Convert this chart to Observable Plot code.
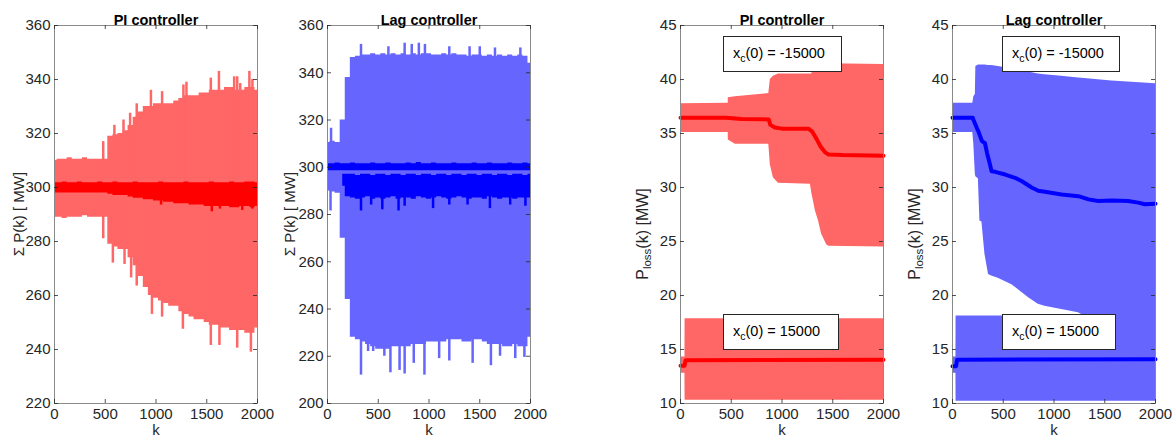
<!DOCTYPE html>
<html><head><meta charset="utf-8">
<script src="https://cdn.jsdelivr.net/npm/d3@7"></script>
<script src="https://cdn.jsdelivr.net/npm/@observablehq/plot@0.6"></script>
<style>
html,body{margin:0;padding:0;background:#fff;}
#chart{position:relative;width:1172px;height:445px;overflow:hidden;font-family:"Liberation Sans",Arial,Helvetica,sans-serif;}
.box{position:absolute;background:#fff;border:1px solid #262626;box-sizing:border-box;font-size:14.5px;color:#000;display:flex;align-items:center;padding-left:9px;padding-bottom:2px;white-space:nowrap;font-family:"Liberation Sans",Arial,sans-serif;}
.box .sb{font-size:10.5px;position:relative;top:5px}
</style></head><body><div id="chart"></div>
<script>
// ---------- shared ticks ----------
const xTicks = [0, 500, 1000, 1500, 2000];
const yTicksSumPI = [220, 240, 260, 280, 300, 320, 340, 360];
const yTicksSumLag = [200, 220, 240, 260, 280, 300, 320, 340, 360];
const yTicksLoss = [10, 15, 20, 25, 30, 35, 40, 45];
const titles = ["PI controller", "Lag controller", "PI controller", "Lag controller"];
const boxLabels = ["-15000", "15000"];

// ---------- Sum P(k): sampled every 50 steps ----------
const kGrid = d3.range(0, 2001, 50);
const sumCenter = 300;
const piSumUpper = [310, 310.5, 310.5, 311, 310.5, 310.5, 311, 310.5, 310.5, 310.5, 310.5,
  319, 319.5, 320, 321, 323, 326, 328, 330, 330,
  331, 331, 331, 331, 332, 333, 334, 334, 334, 335,
  335, 336, 336, 336, 337, 337, 336, 336, 337, 337, 336];
const piSumLower = [289, 289, 288.5, 289, 289, 289, 289.5, 289, 289, 289, 289,
  279, 278, 277, 277, 274, 271, 267, 263, 260,
  259, 258, 257, 256, 256, 254, 253, 252, 251, 251,
  250, 249, 249, 248, 248, 247, 247, 247, 246, 246, 248];
const piSumSpikesUp = [[480, 317], [590, 323], [680, 325], [745, 327.5], [810, 331], [950, 336], [1060, 335.5],
  [1270, 338], [1300, 339], [1540, 340.5], [1620, 343], [1770, 341], [1800, 341], [1830, 338.5], [1920, 343], [1950, 340]];
const piSumSpikesDown = [[480, 281], [575, 272], [690, 271.5], [755, 266.5], [810, 263.5], [960, 253], [1060, 252],
  [1265, 247.5], [1540, 241.5], [1625, 241.5], [1800, 240.5], [1935, 239]];
const piSumDarkUpper = [301.8, 301.8, 302, 301.8, 301.8, 302, 301.8, 301.8, 301.8, 302, 301.8,
  301.8, 302, 301.8, 301.8, 301.8, 302, 301.8, 301.8, 301.8,
  301.8, 302, 301.8, 301.8, 301.8, 301.8, 302, 301.8, 301.8, 301.8,
  301.8, 302, 301.8, 301.8, 301.8, 302, 301.8, 301.8, 302, 302, 301.8];
const piSumDarkLower = [298, 298, 298, 298, 298, 298, 298, 298, 298, 298, 298,
  297.5, 297, 297, 297, 296.5, 296, 296, 295.5, 295.5,
  295, 295, 294.5, 294.5, 294, 294, 294, 293.5, 293.5, 293.5,
  293, 293, 293, 293, 293, 292.5, 292.5, 293, 293, 292.5, 293];
const piSumDarkSpikes = [[1050, 293.5], [1550, 291], [1630, 292], [1850, 291.5], [1950, 292]];

const lagSumUpper = [310.5, 311, 310.5, 320, 338, 346.5, 347, 347.5, 347.5, 348, 347.5,
  348, 347.5, 348, 347.5, 348, 347.5, 348, 347.5, 348,
  348, 347.5, 347.5, 348, 347.5, 348, 347.5, 347.5, 347, 347.5,
  347.5, 347, 347.5, 347, 347.5, 347, 347.5, 347, 347.5, 347, 344];
const lagSumLower = [290, 289.5, 289, 270, 244, 228, 227, 226, 225, 224, 223,
  223, 223, 224, 224, 224, 224, 225, 225, 225,
  226, 226, 226, 226, 227, 227, 227, 226, 226, 227,
  227, 226, 225, 225, 225, 224, 224, 225, 224, 224, 228];
const lagSumSpikesUp = [[35, 316.5], [330, 352], [600, 351], [760, 352.5], [830, 352], [900, 352.5], [960, 352],
  [1200, 351], [1400, 351], [1500, 351], [1650, 350.5], [1900, 350.5]];
const lagSumSpikesDown = [[30, 281.5], [330, 212], [400, 222], [450, 222], [560, 220], [620, 213], [710, 214],
  [760, 212.5], [850, 217], [955, 212], [1100, 219], [1200, 218], [1430, 217], [1610, 216], [1700, 220], [1850, 219], [1940, 219.5]];
const lagSumDarkUpper = [301.5, 301.5, 301.8, 301.5, 301.5, 301.8, 301.5, 301.5, 301.5, 301.8, 301.5,
  301.5, 301.8, 301.5, 301.5, 301.5, 301.8, 301.5, 302, 301.5,
  301.5, 301.8, 301.5, 301.5, 301.5, 301.8, 301.5, 301.5, 301.5, 301.8,
  301.5, 301.5, 301.8, 301.5, 301.5, 301.5, 301.8, 301.5, 301.5, 301.8, 301.5];
const lagSumDarkLower = [298.5, 298.5, 298.5, 298.5, 298.5, 298.5, 298.5, 298.5, 298.5, 298.5, 298.5,
  298.5, 298.5, 298.5, 298.5, 298.5, 298.5, 298.5, 298.5, 298.5,
  298.5, 298.5, 298.5, 298.5, 298.5, 298.5, 298.5, 298.5, 298.5, 298.5,
  298.5, 298.5, 298.5, 298.5, 298.5, 298.5, 298.5, 298.5, 298.5, 298.5, 298.5];
const lagSumBandUpper = [null, null, null, 297, 297, 297, 296.5, 297, 297, 296.5, 297,
  297, 296.5, 297, 297, 296.5, 297, 297, 296.5, 297,
  297, 296.5, 297, 297, 296.5, 297, 297, 296.5, 297, 297,
  296.5, 297, 297, 296.5, 297, 297, 296.5, 297, 297, 296.5, 297];
const lagSumBandLower = [null, null, null, 292, 287.5, 287, 286.5, 287, 287.5, 286.5, 287,
  286.5, 287, 287.5, 286.5, 287, 287, 286.5, 287.5, 287,
  286.5, 287, 287.5, 287, 286.5, 287, 287.5, 287, 286.5, 287,
  287, 286.5, 287.5, 287, 286.5, 287, 287, 286.5, 287, 287, 287];
const lagSumDarkSpikes = [[330, 281.5], [430, 284], [540, 282], [700, 281.5], [760, 283.5], [1040, 282.5],
  [1200, 284], [1380, 284], [1600, 282.5], [1800, 284], [1950, 283.5]];

// ---------- P_loss(k): breakpoints ----------
const piLossHiK = [0, 470, 471, 540, 870, 885, 915, 965, 1280, 1295, 1300, 1330, 1360, 1390, 1440, 1460, 2000];
const piLossHiUpper = [37.75, 37.8, 38.3, 38.4, 38.7, 40.0, 40.3, 40.5, 40.5, 40.5, 41.45, 41.45, 41.45, 41.45, 41.45, 41.45, 41.4];
const piLossHiLower = [35.1, 35.1, 34.4, 34.0, 34.0, 32.1, 30.9, 30.4, 30.3, 29.4, 29.2, 27.8, 26.9, 25.7, 24.7, 24.55, 24.5];
const piLossHiLineK = [0, 200, 450, 600, 870, 885, 930, 1000, 1260, 1295, 1340, 1380, 1425, 1460, 1600, 2000];
const piLossHiLineV = [36.45, 36.45, 36.45, 36.35, 36.3, 35.8, 35.55, 35.45, 35.45, 35.2, 34.5, 33.8, 33.25, 33.05, 33.0, 32.95];
const piLossLoK = [0, 44, 45, 2000];
const piLossLoUpper = [14.3, 14.3, 17.85, 17.85];
const piLossLoLower = [12.8, 12.8, 10.3, 10.3];
const piLossLoLineK = [0, 40, 50, 2000];
const piLossLoLineV = [13.5, 13.5, 14.0, 14.05];

const lagLossHiK = [0, 200, 210, 225, 230, 255, 270, 290, 320, 355, 385, 450, 585, 750, 845, 910, 1075, 1240, 1300, 1570, 2000];
const lagLossHiUpper = [37.8, 37.8, 38.4, 38.6, 41.2, 41.35, 41.35, 41.35, 41.35, 41.3, 41.3, 41.2, 41.0, 40.7, 40.5, 40.45, 40.3, 40.15, 40.1, 39.85, 39.6];
const lagLossHiLower = [35.1, 35.1, 34.0, 31.2, 31.0, 30.8, 26.9, 26.8, 23.8, 21.95, 21.8, 21.6, 21.0, 19.8, 19.2, 19.0, 18.7, 18.4, 18.1, 17.8, 17.5];
const lagLossHiLineK = [0, 200, 205, 240, 255, 290, 320, 340, 370, 385, 420, 520, 615, 680, 780, 845, 910, 1075, 1240, 1340, 1435, 1570, 1730, 1830, 1895, 2000];
const lagLossHiLineV = [36.45, 36.45, 36.3, 35.5, 35.2, 34.3, 34.1, 33.2, 32.1, 31.5, 31.45, 31.2, 30.9, 30.6, 30.0, 29.7, 29.6, 29.35, 29.2, 28.9, 28.75, 28.8, 28.75, 28.6, 28.45, 28.5];
const lagLossLoK = [0, 34, 35, 2000];
const lagLossLoUpper = [14.3, 14.3, 18.1, 18.1];
const lagLossLoLower = [12.8, 12.8, 10.2, 10.2];
const lagLossLoLineK = [0, 35, 45, 2000];
const lagLossLoLineV = [13.45, 13.45, 14.05, 14.1];

// ---------- colours ----------
const RED_L = "#ff6666", RED_D = "#ff0000", BLUE_L = "#6666ff", BLUE_D = "#0000ff";
const AXIS = "#262626";
const FONT = '"Liberation Sans", Arial, Helvetica, sans-serif';

// ---------- helpers ----------
const band = (ks, lo, hi) => ks.map((k, i) => ({k, lo: lo[i], hi: hi[i]}));
const pts = (ks, vs) => ks.map((k, i) => ({k, v: vs[i]}));

const chart = document.getElementById("chart");
const FW = 203, FH = 378, MT = 25, MB = 42;

function panel({frameLeft, yDomain, yTicks, title, marks, ylabel, ylabelY, ylabelSize, ylabelDx}) {
  const ML = 60, MR = 22;
  const svg = Plot.plot({
    width: ML + FW + MR, height: MT + FH + MB,
    marginLeft: ML, marginRight: MR, marginTop: MT, marginBottom: MB,
    style: {fontSize: "15px", fontFamily: FONT, background: "transparent", overflow: "visible"},
    x: {domain: [0, 2000]},
    y: {domain: yDomain},
    marks: [
      ...marks,
      Plot.frame({stroke: "#8a8a8a", strokeWidth: 1}),
      Plot.tickX(xTicks, {x: d => d, insetTop: FH - 4, stroke: AXIS, strokeWidth: 0.8}),
      Plot.tickX(xTicks, {x: d => d, insetBottom: FH - 4, stroke: AXIS, strokeWidth: 0.8}),
      Plot.tickY(yTicks, {y: d => d, insetRight: FW - 4, stroke: AXIS, strokeWidth: 0.8}),
      Plot.tickY(yTicks, {y: d => d, insetLeft: FW - 4, stroke: AXIS, strokeWidth: 0.8}),
      Plot.axisX({ticks: xTicks, tickFormat: d3.format("d"), tickSize: 0, tickPadding: 5, label: null, fontSize: 15, fill: AXIS}),
      Plot.axisY({ticks: yTicks, tickFormat: d3.format("d"), tickSize: 0, tickPadding: 4, label: null, fontSize: 15, fill: AXIS}),
      Plot.text([title], {text: d => d, frameAnchor: "top", dy: -11, fontWeight: "bold", fontSize: 14.5, fill: "#000"}),
      Plot.text(["k"], {text: d => d, frameAnchor: "bottom", dy: 31, fontSize: 15, fill: AXIS})
    ]
  });
  svg.style.position = "absolute";
  svg.style.left = (frameLeft - ML) + "px";
  svg.style.top = "0px";
  svg.style.background = "transparent";
  svg.style.overflow = "visible";
  svg.style.fontFamily = FONT;
  svg.style.maxWidth = "none";
  const t = d3.select(svg).append("text")
    .attr("transform", `translate(${ML - ylabelDx},${ylabelY}) rotate(-90)`)
    .attr("text-anchor", "middle")
    .attr("dominant-baseline", "central")
    .attr("font-size", ylabelSize)
    .attr("fill", AXIS);
  ylabel.forEach(([s, sub]) => {
    const ts = t.append("tspan").text(s);
    if (sub === 1) ts.attr("font-size", ylabelSize * 0.72).attr("dy", 5);
    if (sub === -1) ts.attr("dy", -5);
  });
  chart.appendChild(svg);
}

function sumMarks(upper, lower, spUp, spDown, light, dark, extra) {
  const rows = band(kGrid, lower, upper);
  return [
    Plot.areaY(rows, {x: "k", y1: "lo", y2: "hi", fill: light, curve: "step"}),
    Plot.ruleX(spUp, {x: d => d[0], y1: sumCenter, y2: d => d[1], stroke: light, strokeWidth: 2.5}),
    Plot.ruleX(spDown, {x: d => d[0], y1: sumCenter, y2: d => d[1], stroke: light, strokeWidth: 2.5}),
    ...extra
  ];
}

// Panel 1: PI, sum P
panel({
  frameLeft: 54, yDomain: [220, 360], yTicks: yTicksSumPI, title: titles[0], ylabelY: 214, ylabelSize: 15, ylabelDx: 36,
  ylabel: [["\u03A3 P(k) [ MW]", 0]],
  marks: sumMarks(piSumUpper, piSumLower, piSumSpikesUp, piSumSpikesDown, RED_L, RED_D, [
    Plot.areaY(band(kGrid, piSumDarkLower, piSumDarkUpper), {x: "k", y1: "lo", y2: "hi", fill: RED_D, curve: "step"}),
    Plot.ruleX(piSumDarkSpikes, {x: d => d[0], y1: sumCenter, y2: d => d[1], stroke: RED_D, strokeWidth: 2.5})
  ])
});

// Panel 2: Lag, sum P
panel({
  frameLeft: 327, yDomain: [200, 360], yTicks: yTicksSumLag, title: titles[1], ylabelY: 214, ylabelSize: 15, ylabelDx: 38,
  ylabel: [["\u03A3 P(k) [ MW]", 0]],
  marks: sumMarks(lagSumUpper, lagSumLower, lagSumSpikesUp, lagSumSpikesDown, BLUE_L, BLUE_D, [
    Plot.areaY(band(kGrid, lagSumDarkLower, lagSumDarkUpper), {x: "k", y1: "lo", y2: "hi", fill: BLUE_D, curve: "step"}),
    Plot.areaY(band(kGrid, lagSumBandLower, lagSumBandUpper), {x: "k", y1: "lo", y2: "hi", fill: BLUE_D, curve: "step"}),
    Plot.ruleX(lagSumDarkSpikes, {x: d => d[0], y1: 290, y2: d => d[1], stroke: BLUE_D, strokeWidth: 2.5})
  ])
});

function lossMarks(hiK, hiU, hiL, hiLK, hiLV, loK, loU, loL, loLK, loLV, light, dark) {
  return [
    Plot.areaY(band(hiK, hiL, hiU), {x: "k", y1: "lo", y2: "hi", fill: light}),
    Plot.areaY(band(loK, loL, loU), {x: "k", y1: "lo", y2: "hi", fill: light}),
    Plot.line(pts(hiLK, hiLV), {x: "k", y: "v", stroke: dark, strokeWidth: 4}),
    Plot.line(pts(loLK, loLV), {x: "k", y: "v", stroke: dark, strokeWidth: 4})
  ];
}
const lossLabel = [["P", 0], ["loss", 1], ["(k) [MW]", -1]];

// Panel 3: PI, P_loss
panel({
  frameLeft: 680, yDomain: [10, 45], yTicks: yTicksLoss, title: titles[2], ylabelY: 234, ylabelSize: 16, ylabelDx: 38,
  ylabel: lossLabel,
  marks: lossMarks(piLossHiK, piLossHiUpper, piLossHiLower, piLossHiLineK, piLossHiLineV,
    piLossLoK, piLossLoUpper, piLossLoLower, piLossLoLineK, piLossLoLineV, RED_L, RED_D)
});

// Panel 4: Lag, P_loss
panel({
  frameLeft: 952, yDomain: [10, 45], yTicks: yTicksLoss, title: titles[3], ylabelY: 234, ylabelSize: 16, ylabelDx: 38,
  ylabel: lossLabel,
  marks: lossMarks(lagLossHiK, lagLossHiUpper, lagLossHiLower, lagLossHiLineK, lagLossHiLineV,
    lagLossLoK, lagLossLoUpper, lagLossLoLower, lagLossLoLineK, lagLossLoLineV, BLUE_L, BLUE_D)
});

// annotation boxes
const boxes = [
  {l: 723, t: 36, w: 119, h: 36, s: boxLabels[0]},
  {l: 723, t: 314, w: 116, h: 36, s: boxLabels[1]},
  {l: 1002, t: 36, w: 118, h: 36, s: boxLabels[0]},
  {l: 1002, t: 314, w: 114, h: 36, s: boxLabels[1]}
];
boxes.forEach(b => {
  const d = document.createElement("div");
  d.className = "box";
  d.style.left = b.l + "px"; d.style.top = b.t + "px";
  d.style.width = b.w + "px"; d.style.height = b.h + "px";
  d.innerHTML = `x<span class="sb">c</span>(0) = ${b.s}`;
  chart.appendChild(d);
});
</script></body></html>
